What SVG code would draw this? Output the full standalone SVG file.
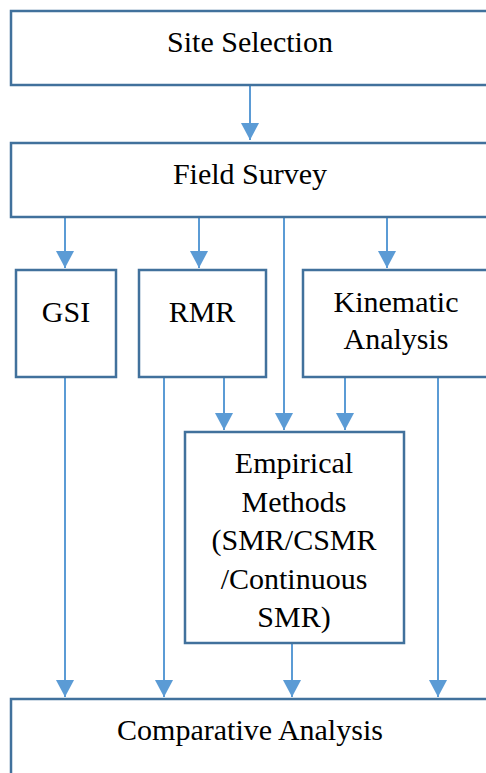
<svg xmlns="http://www.w3.org/2000/svg" width="486" height="773" viewBox="0 0 486 773">
  <defs>
    <style>
      .box { fill: #ffffff; stroke: #41719C; stroke-width: 2.5; }
      .conn { stroke: #5B9BD5; stroke-width: 2; fill: none; marker-end: url(#arrow); }
    </style>
    <!-- filled triangular arrowhead, tip at the line end -->
    <marker id="arrow" markerWidth="18" markerHeight="18" viewBox="0 0 17 18" refX="17" refY="9" orient="auto" markerUnits="userSpaceOnUse">
      <path d="M0,0 L17,9 L0,18 Z" fill="#5B9BD5"/>
    </marker>
  </defs>
  <rect width="486" height="773" fill="#ffffff"/>

  <g id="connectors">
    <line class="conn" x1="250" y1="85" x2="250" y2="140"/>
    <line class="conn" x1="65" y1="217" x2="65" y2="268"/>
    <line class="conn" x1="199" y1="217" x2="199" y2="268"/>
    <line class="conn" x1="284" y1="217" x2="284" y2="430"/>
    <line class="conn" x1="387" y1="217" x2="387" y2="268"/>
    <line class="conn" x1="224" y1="377" x2="224" y2="430"/>
    <line class="conn" x1="345" y1="377" x2="345" y2="430"/>
    <line class="conn" x1="65" y1="377" x2="65" y2="697"/>
    <line class="conn" x1="164" y1="377" x2="164" y2="697"/>
    <line class="conn" x1="292" y1="644" x2="292" y2="697"/>
    <line class="conn" x1="438" y1="377" x2="438" y2="697"/>
  </g>

  <g font-family="Liberation Serif, Times New Roman, serif" font-size="30" fill="#000000" text-anchor="middle">
    <g id="site-selection">
      <rect class="box" x="11" y="11" width="480" height="74"/>
      <text x="250" y="52">Site Selection</text>
    </g>
    <g id="field-survey">
      <rect class="box" x="11" y="143" width="480" height="74"/>
      <text x="250" y="184">Field Survey</text>
    </g>
    <g id="gsi">
      <rect class="box" x="16" y="270" width="100" height="107"/>
      <text x="66" y="322">GSI</text>
    </g>
    <g id="rmr">
      <rect class="box" x="139" y="270" width="127" height="107"/>
      <text x="202" y="322">RMR</text>
    </g>
    <g id="kinematic-analysis">
      <rect class="box" x="303" y="270" width="188" height="107"/>
      <text x="396" y="312">Kinematic</text>
      <text x="396" y="349">Analysis</text>
    </g>
    <g id="empirical-methods">
      <rect class="box" x="185" y="432" width="219" height="211"/>
      <text x="294" y="473">Empirical</text>
      <text x="294" y="511.5">Methods</text>
      <text x="294" y="550">(SMR/CSMR</text>
      <text x="294" y="588.5">/Continuous</text>
      <text x="294" y="627">SMR)</text>
    </g>
    <g id="comparative-analysis">
      <rect class="box" x="11" y="699" width="480" height="80"/>
      <text x="250" y="740">Comparative Analysis</text>
    </g>
  </g>
</svg>
